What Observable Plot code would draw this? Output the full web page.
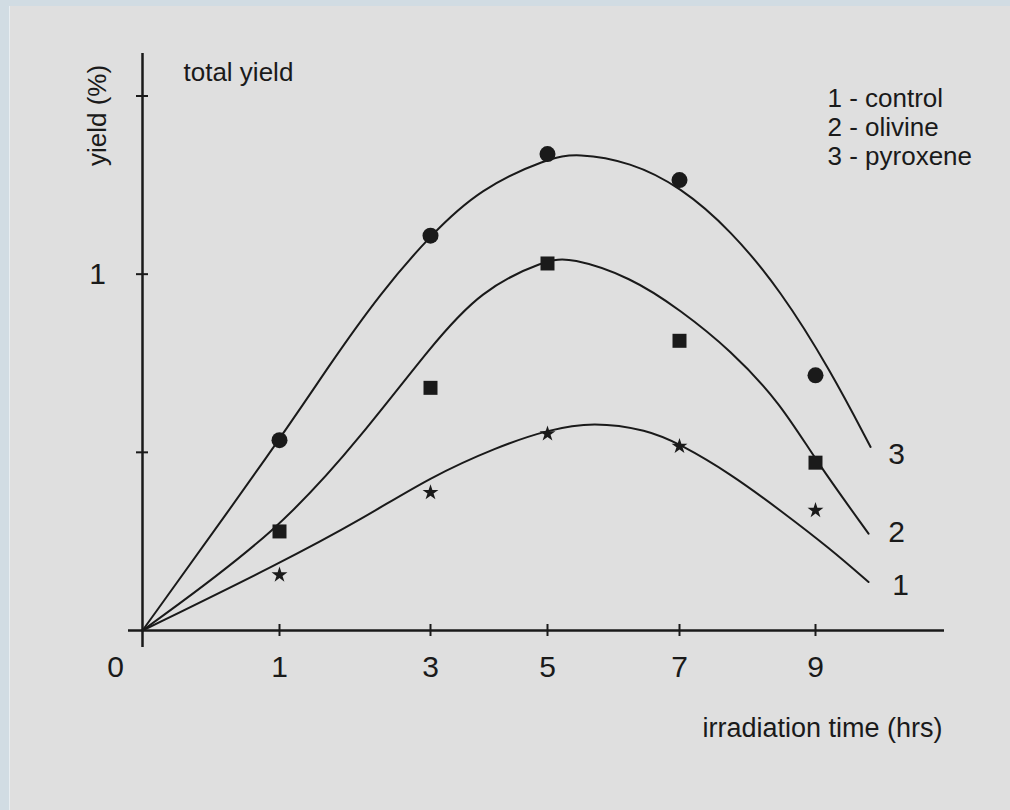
<!DOCTYPE html>
<html>
<head>
<meta charset="utf-8">
<script src="https://cdn.jsdelivr.net/npm/d3@7"></script>
<script src="https://cdn.jsdelivr.net/npm/@observablehq/plot@0.6"></script>
<style>
  html, body { margin: 0; padding: 0; }
  body { width: 1010px; height: 810px; background: #d1dce3; position: relative; overflow: hidden; }
  #chart { position: absolute; left: 10px; top: 6px; width: 1000px; height: 804px; box-shadow: -1px 0 0 #e9eef1; }
</style>
</head>
<body>
<div id="chart"></div>
<script>
// ---- data ----
const xTicks = [1, 3, 5, 7, 9];
const yTicks = [0.5, 1, 1.5];
const yLabelTicks = [1];
const originLabel = [0];

const times = [1, 3, 5, 7, 9];
const controlYield  = [0.156, 0.387, 0.552, 0.517, 0.337];
const olivineYield  = [0.278, 0.681, 1.030, 0.813, 0.471];
const pyroxeneYield = [0.534, 1.108, 1.337, 1.264, 0.716];

// fitted curves
const pyroxeneCurveX = [0, 1, 1.675, 2.338, 3, 3.855, 5, 5.45, 6.258, 7.015, 7.75, 8.485, 9.22, 9.81];
const pyroxeneCurveY = [0, 0.534, 0.750, 0.947, 1.110, 1.241, 1.325, 1.340, 1.315, 1.245, 1.124, 0.955, 0.730, 0.515];
const olivineCurveX  = [0, 1, 2.113, 3, 3.855, 4.97, 5.348, 6.258, 7.015, 7.75, 8.485, 9, 9.78];
const olivineCurveY  = [0, 0.280, 0.553, 0.796, 0.955, 1.040, 1.047, 0.992, 0.899, 0.787, 0.638, 0.478, 0.272];
const controlCurveX  = [0, 1, 2.113, 3, 4.14, 5, 5.697, 6.51, 7, 7.75, 8.485, 9.22, 9.78];
const controlCurveY  = [0, 0.188, 0.315, 0.431, 0.515, 0.563, 0.586, 0.563, 0.524, 0.440, 0.337, 0.229, 0.136];

const legendLabels = ["1 - control", "2 - olivine", "3 - pyroxene"];
const curveNames = ["1", "2", "3"];
const titleText = "total yield";
const yAxisTitle = "yield (%)";
const xAxisTitle = "irradiation time (hrs)";

// ---- build tables ----
const pts = (ys) => times.map((t, i) => ({t, v: ys[i]}));
const curve = (xs, ys) => xs.map((x, i) => ({x, y: ys[i]}));
const pyroC = curve(pyroxeneCurveX, pyroxeneCurveY);
const oliC = curve(olivineCurveX, olivineCurveY);
const conC = curve(controlCurveX, controlCurveY);
const last = (a) => [a[a.length - 1]];

const ink = "#1a1a1a";
const lineStyle = {x: "x", y: "y", curve: "basis", stroke: ink, strokeWidth: 2};

const chart = Plot.plot({
  width: 1000,
  height: 804,
  marginLeft: 132,
  marginRight: 66,
  marginTop: 47,
  marginBottom: 180,
  style: {background: "#dfdfdf", color: ink, fontFamily: "'Liberation Sans', Arial, sans-serif"},
  x: {type: "linear", domain: [0, 1, 3, 5, 7, 9], range: [132, 269, 420, 537, 669, 805]},
  y: {type: "linear", domain: [0, 1.5], range: [624, 89.5]},
  marks: [
    // axes lines
    Plot.ruleY([0], {stroke: ink, strokeWidth: 2.5, insetLeft: -14}),
    Plot.ruleX([0], {stroke: ink, strokeWidth: 2.5, insetBottom: -17}),
    // crossing ticks
    Plot.axisX({ticks: xTicks, tickSize: 12, dy: -6, tickFormat: () => "", stroke: ink, strokeWidth: 2}),
    Plot.axisY({ticks: yTicks, tickSize: 12, dx: 6, tickFormat: () => "", stroke: ink, strokeWidth: 2}),
    // tick labels
    Plot.text(xTicks, {x: d => d, y: () => 0, dy: 37, text: d => String(d), fontSize: 30, lineAnchor: "middle", fill: ink}),
    Plot.text(originLabel, {x: d => d, y: d => d, dx: -27, dy: 37, text: d => String(d), fontSize: 30, lineAnchor: "middle", fill: ink}),
    Plot.text(yLabelTicks, {x: () => 0, y: d => d, dx: -45, text: d => String(d), fontSize: 30, lineAnchor: "middle", fill: ink}),
    // curves
    Plot.line(pyroC, lineStyle),
    Plot.line(oliC, lineStyle),
    Plot.line(conC, lineStyle),
    // data points
    Plot.dot(pts(pyroxeneYield), {x: "t", y: "v", symbol: "circle", r: 8, fill: ink, stroke: null}),
    Plot.dot(pts(olivineYield), {x: "t", y: "v", symbol: "square", r: 7.9, fill: ink, stroke: null}),
    Plot.dot(pts(controlYield), {x: "t", y: "v", symbol: "star", r: 5, fill: ink, stroke: null}),
    // curve labels
    Plot.text(last(pyroC), {x: "x", y: "y", text: () => curveNames[2], dx: 26, dy: 7.5, fontSize: 30, lineAnchor: "middle", fill: ink}),
    Plot.text(last(oliC), {x: "x", y: "y", text: () => curveNames[1], dx: 28, dy: -1, fontSize: 30, lineAnchor: "middle", fill: ink}),
    Plot.text(last(conC), {x: "x", y: "y", text: () => curveNames[0], dx: 32, dy: 3.5, fontSize: 30, lineAnchor: "middle", fill: ink}),
    // texts
    Plot.text([titleText], {frameAnchor: "top-left", dx: 41, dy: 18.7, text: d => d, textAnchor: "start", lineAnchor: "middle", fontSize: 26, fill: ink}),
    Plot.text([yAxisTitle], {frameAnchor: "top-left", dx: -44.7, dy: 62, text: d => d, rotate: -90, textAnchor: "middle", lineAnchor: "middle", fontSize: 26, fill: ink}),
    Plot.text([legendLabels.join("\n")], {frameAnchor: "top-left", dx: 685, dy: 33, text: d => d, textAnchor: "start", lineAnchor: "top", lineHeight: 1.12, fontSize: 26, fill: ink}),
    Plot.text([xAxisTitle], {frameAnchor: "bottom-right", dx: -2, dy: 97.5, text: d => d, textAnchor: "end", lineAnchor: "middle", fontSize: 27, fill: ink})
  ]
});
document.getElementById("chart").appendChild(chart);
</script>
</body>
</html>
